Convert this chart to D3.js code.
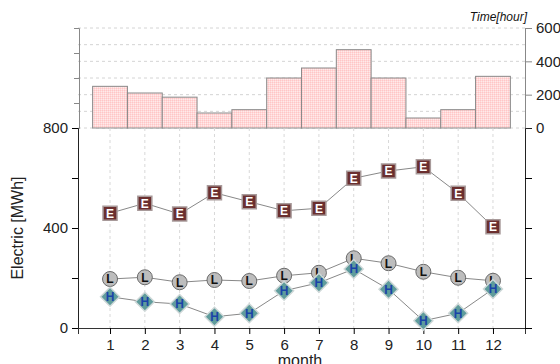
<!DOCTYPE html>
<html>
<head>
<meta charset="utf-8">
<script src="https://cdn.jsdelivr.net/npm/d3@7"></script>
<style>
  body { margin: 0; background: #fff; }
  svg { font-family: "Liberation Sans", Arial, sans-serif; }
</style>
</head>
<body>
<svg width="560" height="364"></svg>
<script>
// data
var months = [1, 2, 3, 4, 5, 6, 7, 8, 9, 10, 11, 12];
var hours  = [250, 210, 185, 90, 110, 300, 360, 470, 300, 60, 110, 310];
var eVals  = [459, 499, 456, 541, 505, 469, 479, 599, 628, 645, 539, 405];
var lVals  = [196, 203, 183, 192, 188, 209, 221, 279, 259, 225, 201, 189];
var hVals  = [125, 105, 96, 45, 59, 149, 181, 236, 155, 29, 59, 156];
var leftTicks = [0, 400, 800];
var timeTicks = [0, 200, 400, 600];

var svg = d3.select("svg");

var x = d3.scaleLinear().domain([0.08, 12.92]).range([78, 525]);
var y = d3.scaleLinear().domain([0, 800]).range([328, 128]);
var yt = d3.scaleLinear().domain([0, 600]).range([128, 28]);
var step = x(2) - x(1);

// checker pattern for the bars
var defs = svg.append("defs");
var pat = defs.append("pattern")
    .attr("id", "chk")
    .attr("width", 2).attr("height", 2)
    .attr("patternUnits", "userSpaceOnUse");
pat.append("rect").attr("width", 2).attr("height", 2).attr("fill", "#ffd8d8");
pat.append("rect").attr("width", 1).attr("height", 1).attr("fill", "#ffc6c6");
pat.append("rect").attr("x", 1).attr("y", 1).attr("width", 1).attr("height", 1).attr("fill", "#ffeaea");

// ---- top panel: hours ----
svg.append("g")
    .selectAll("line")
    .data(d3.range(0, 601, 100))
    .enter().append("line")
    .attr("x1", 78).attr("x2", 525)
    .attr("y1", function(d) { return yt(d); })
    .attr("y2", function(d) { return yt(d); })
    .attr("stroke", "#d4d4d4")
    .attr("stroke-dasharray", "3,3");

svg.append("g")
    .selectAll("rect")
    .data(hours)
    .enter().append("rect")
    .attr("x", function(d, i) { return x(months[i]) - step / 2; })
    .attr("y", function(d) { return yt(d); })
    .attr("width", step)
    .attr("height", function(d) { return yt(0) - yt(d); })
    .attr("fill", "url(#chk)")
    .attr("stroke", "#8a8a8a")
    .attr("stroke-width", 1);

var tl = svg.append("g")
    .attr("transform", "translate(79,0)")
    .call(d3.axisLeft(yt).tickValues([0, 150, 300, 450, 600]).tickSize(5).tickFormat(""));
tl.select(".domain").attr("stroke", "#888");
tl.selectAll(".tick line").attr("stroke", "#888");

var tr = svg.append("g")
    .attr("transform", "translate(525,0)")
    .call(d3.axisRight(yt).tickValues(timeTicks).tickSize(7).tickPadding(4));
tr.select(".domain").attr("stroke", "#888");
tr.selectAll(".tick line").attr("stroke", "#888");
tr.selectAll("text").attr("font-size", 15).attr("fill", "#222")
    .attr("font-family", "Liberation Sans, Arial, sans-serif");

svg.append("text")
    .attr("x", 527).attr("y", 21)
    .attr("text-anchor", "end")
    .attr("font-size", 12)
    .attr("font-style", "italic")
    .attr("fill", "#111")
    .text("Time[hour]");

// ---- bottom panel: electric ----
svg.append("g")
    .selectAll("line")
    .data(months)
    .enter().append("line")
    .attr("x1", function(d) { return x(d); })
    .attr("x2", function(d) { return x(d); })
    .attr("y1", 128).attr("y2", 328)
    .attr("stroke", "#d8d8d8")
    .attr("stroke-dasharray", "3,3");

var xa = svg.append("g")
    .attr("transform", "translate(0,328)")
    .call(d3.axisBottom(x).tickValues(months).tickSize(6).tickPadding(5).tickFormat(d3.format("d")));
xa.select(".domain").attr("stroke", "#333");
xa.selectAll("text").attr("font-size", 15).attr("fill", "#222")
    .attr("font-family", "Liberation Sans, Arial, sans-serif");

var ya = svg.append("g")
    .attr("transform", "translate(78,0)")
    .call(d3.axisLeft(y).tickValues([0, 200, 400, 600, 800]).tickSize(6).tickPadding(4)
        .tickFormat(function(d) { return leftTicks.indexOf(d) >= 0 ? d : ""; }));
ya.select(".domain").attr("stroke", "#222");
ya.selectAll("text").attr("font-size", 15).attr("fill", "#222")
    .attr("font-family", "Liberation Sans, Arial, sans-serif");

var yr = svg.append("g")
    .attr("transform", "translate(525,0)")
    .call(d3.axisRight(y).tickValues([0, 200, 400, 600]).tickSize(7).tickFormat(""));
yr.select(".domain").attr("stroke", "#222");

svg.append("text")
    .attr("transform", "translate(23,228) rotate(-90)")
    .attr("text-anchor", "middle")
    .attr("font-size", 16)
    .attr("fill", "#222")
    .text("Electric [MWh]");

svg.append("text")
    .attr("x", 300).attr("y", 366)
    .attr("text-anchor", "middle")
    .attr("font-size", 16)
    .attr("fill", "#222")
    .text("month");

var line = d3.line()
    .x(function(d, i) { return x(months[i]); })
    .y(function(d) { return y(d); });

function drawLine(vals) {
    svg.append("path")
        .datum(vals)
        .attr("d", line)
        .attr("fill", "none")
        .attr("stroke", "#888")
        .attr("stroke-width", 1);
}
drawLine(eVals);
drawLine(lVals);
drawLine(hVals);

function markerGroup(vals) {
    return svg.append("g").selectAll("g")
        .data(vals).enter().append("g")
        .attr("transform", function(d, i) { return "translate(" + x(months[i]) + "," + y(d) + ")"; });
}

// E markers
var eg = markerGroup(eVals);
eg.append("rect")
    .attr("x", -7).attr("y", -7).attr("width", 14).attr("height", 14)
    .attr("fill", "#6b2f2f").attr("stroke", "#a89a9a").attr("stroke-width", 1.5);
eg.append("text")
    .attr("text-anchor", "middle").attr("dy", "0.36em")
    .attr("font-size", 12).attr("font-weight", "bold").attr("fill", "#fff")
    .text("E");

// L markers (under the H ones)
var lg = markerGroup(lVals);
lg.append("circle")
    .attr("r", 7.5)
    .attr("fill", "#bdbdbd").attr("stroke", "#6a6a6a").attr("stroke-width", 1);
lg.append("text")
    .attr("text-anchor", "middle").attr("dy", "0.36em")
    .attr("font-size", 12).attr("font-weight", "bold").attr("fill", "#111")
    .text("L");

// H markers
var hg = markerGroup(hVals);
hg.append("path")
    .attr("d", "M0,-9.5L9.5,0L0,9.5L-9.5,0Z")
    .attr("fill", "#5f9c9c").attr("stroke", "#cfd8d8").attr("stroke-width", 1.5);
hg.append("text")
    .attr("text-anchor", "middle").attr("dy", "0.36em")
    .attr("font-size", 12).attr("font-weight", "bold").attr("fill", "#1a44a8")
    .text("H");
</script>
</body>
</html>
